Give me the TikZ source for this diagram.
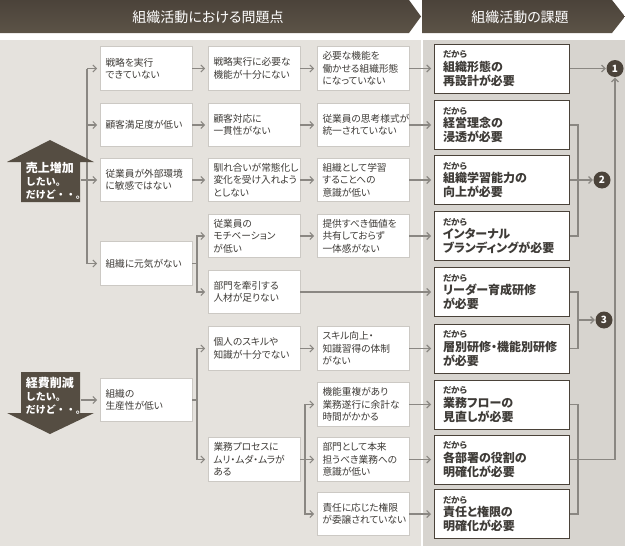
\documentclass[tikz,border=0pt]{standalone}
\usepackage{fontspec}
\setmainfont{Noto Sans CJK JP}[RawFeature=+palt]
\newfontfamily\jpfull{Noto Sans CJK JP}
\usepackage{tikz}
\usetikzlibrary{arrows.meta}
\definecolor{OAHead}{HTML}{4B433A}
\definecolor{OAHeadLight}{HTML}{5C5347}
\definecolor{OABgLeft}{HTML}{E5E2DD}
\definecolor{OABgRight}{HTML}{D7D4CF}
\definecolor{OABoxLine}{HTML}{CCC9C4}
\definecolor{OAText}{HTML}{3E3B37}
\definecolor{OAResLine}{HTML}{4A4239}
\definecolor{OAArrow}{HTML}{8A8782}
\definecolor{OAHouse}{HTML}{554D42}
\newcommand{\dakara}{{\fontsize{8.5}{9}\selectfont だから}\\[-0.5pt]}

\begin{document}
\begin{tikzpicture}[x=1pt, y=-1pt,
  prob/.style={draw=OABoxLine, fill=white, line width=0.8pt, text width=81pt,
    inner xsep=5.5pt, minimum height=43.5pt, align=left,
    font=\fontsize{9.7}{12.5}\selectfont, text=OAText},
  res/.style={draw=OAResLine, fill=white, line width=1pt, text width=117pt,
    inner xsep=9pt, minimum height=49pt, align=left,
    font=\bfseries\fontsize{12}{14}\selectfont, text=OAText},
  num/.style={circle, fill=OAHead, text=white, inner sep=0pt, minimum size=17pt,
    font=\bfseries\fontsize{10}{10}\selectfont},
  hdr/.style={text=white, font=\fontsize{14}{14}\selectfont},
  house/.style={text=white, text width=49pt, inner xsep=5.5pt, align=left,
    font=\jpfull\bfseries\fontsize{10}{13}\selectfont},
  wire/.style={draw=OAArrow, line width=1.1pt},
  wirearr/.style={wire, -{Straight Barb[length=3.5pt,width=7pt]}, shorten >=2.5pt},
  numarr/.style={wirearr, shorten >=0.5pt},
]
  \useasboundingbox (0,0) rectangle (625,546);
  \fill[OABgLeft] (0,40) rectangle (421,546);
  \fill[OABgRight] (423,40) rectangle (625,546);
  \shade[top color=OAHead, bottom color=OAHeadLight]
    (0,0) -- (409,0) -- (421,16.5) -- (409,33) -- (0,33) -- cycle;
  \shade[top color=OAHead, bottom color=OAHeadLight]
    (422,0) -- (612,0) -- (625,16.5) -- (612,33) -- (422,33) -- cycle;
  \node[hdr] (h1) at (208,17) {組織活動における問題点};
  \node[hdr] (h2) at (520,17) {組織活動の課題};

  \node[prob] (c1a) at (146,68.5) {戦略を実行\\できていない};
  \node[prob] (c1b) at (146,125) {顧客満足度が低い};
  \node[prob] (c1c) at (146,180) {従業員が外部環境\\に敏感ではない};
  \node[prob] (c1d) at (146,263.5) {組織に元気がない};
  \node[prob] (c1e) at (146,400) {組織の\\生産性が低い};

  \node[prob] (c2a) at (254,68.5) {戦略実行に必要な\\機能が十分にない};
  \node[prob] (c2b) at (254,125) {顧客対応に\\一貫性がない};
  \node[prob] (c2c) at (254,180) {馴れ合いが常態化し\\変化を受け入れよう\\としない};
  \node[prob] (c2d) at (254,236) {従業員の\\モチベーション\\が低い};
  \node[prob] (c2e) at (254,292) {部門を牽引する\\人材が足りない};
  \node[prob] (c2f) at (254,348.5) {個人のスキルや\\知識が十分でない};
  \node[prob] (c2g) at (254,459.5) {業務プロセスに\\ムリ・ムダ・ムラが\\ある};

  \node[prob] (c3a) at (363,68.5) {必要な機能を\\働かせる組織形態\\になっていない};
  \node[prob] (c3b) at (363,125) {従業員の思考様式が\\統一されていない};
  \node[prob] (c3c) at (363,180) {組織として学習\\することへの\\意識が低い};
  \node[prob] (c3d) at (363,236) {提供すべき価値を\\共有しておらず\\一体感がない};
  \node[prob] (c3f) at (363,348.5) {スキル向上・\\知識習得の体制\\がない};
  \node[prob] (c3g) at (363,404.5) {機能重複があり\\業務遂行に余計な\\時間がかかる};
  \node[prob] (c3h) at (363,459.5) {部門として本来\\担うべき業務への\\意識が低い};
  \node[prob] (c3i) at (363,514) {責任に応じた権限\\が委譲されていない};

  \node[res] (r1) at (501.5,68.5) {\dakara 組織形態の\\再設計が必要};
  \node[res] (r2) at (501.5,125) {\dakara 経営理念の\\浸透が必要};
  \node[res] (r3) at (501.5,180) {\dakara 組織学習能力の\\向上が必要};
  \node[res] (r4) at (501.5,236) {\dakara インターナル\\ブランディングが必要};
  \node[res] (r5) at (501.5,292) {\dakara リーダー育成研修\\が必要};
  \node[res] (r6) at (501.5,348.5) {\dakara 層別研修・機能別研修\\が必要};
  \node[res] (r7) at (501.5,404.5) {\dakara 業務フローの\\見直しが必要};
  \node[res] (r8) at (501.5,459.5) {\dakara 各部署の役割の\\明確化が必要};
  \node[res] (r9) at (501.5,514) {\dakara 責任と権限の\\明確化が必要};

  \node[num] (n1) at (615,68.5) {1};
  \node[num] (n2) at (602,180) {2};
  \node[num] (n3) at (604,320) {3};

  \coordinate (tk) at (87,68.5);
  \draw[wirearr] (tk) -- (c1a);
  \draw[wirearr] (tk |- c1b) -- (c1b);
  \draw[wirearr] (tk) |- (c1d);

  \fill[OAHouse] (7,162) -- (50,140) -- (94,162) -- (80,162) -- (80,202)
    -- (21,202) -- (21,162) -- cycle;
  \node[house] (hu) at (50.5,181)
    {{\fontsize{12}{14}\selectfont 売上増加}\\したい。\\だけど・・。};
  \fill[OAHouse] (21,372) -- (80,372) -- (80,413) -- (94,413) -- (50,434)
    -- (7,413) -- (21,413) -- cycle;
  \node[house] (hd) at (50.5,396)
    {{\fontsize{12}{14}\selectfont 経費削減}\\したい。\\だけど・・。};
  \draw[wirearr] (hu.east |- c1c) -- (c1c);
  \draw[wirearr] (hd.east |- c1e) -- (c1e);

  \foreach \a/\b in {c1a/c2a, c2a/c3a, c3a/r1, c1b/c2b, c2b/c3b, c3b/r2,
    c1c/c2c, c2c/c3c, c3c/r3, c2d/c3d, c3d/r4, c2e/r5, c2f/c3f, c3f/r6,
    c3g/r7, c3h/r8, c3i/r9}
    \draw[wirearr] (\a) -- (\b);

  \coordinate (kd) at (197,263.5);
  \draw[wire] (c1d) -- (kd);
  \draw[wirearr] (kd) |- (c2d);
  \draw[wirearr] (kd) |- (c2e);
  \coordinate (ke) at (197,400);
  \draw[wire] (c1e) -- (ke);
  \draw[wirearr] (ke) |- (c2f);
  \draw[wirearr] (ke) |- (c2g);
  \coordinate (kg) at (305,459.5);
  \draw[wire] (c2g) -- (kg);
  \draw[wirearr] (kg) |- (c3g);
  \draw[wirearr] (kg) -- (c3h);
  \draw[wirearr] (kg) |- (c3i);

  \draw[numarr] (r1) -- (n1);
  \coordinate (j2) at (578,180);
  \draw[wire] (r2) -| (j2) |- (r4);
  \draw[numarr] (r3) -- (n2);
  \coordinate (j3) at (578,320);
  \draw[wire] (r5) -| (j3) |- (r6);
  \draw[numarr] (j3) -- (n3);
  \coordinate (j4) at (578,459.5);
  \draw[wire] (r7) -| (j4) |- (r9);
  \draw[numarr] (r8) -| (n1);
\end{tikzpicture}
\end{document}
